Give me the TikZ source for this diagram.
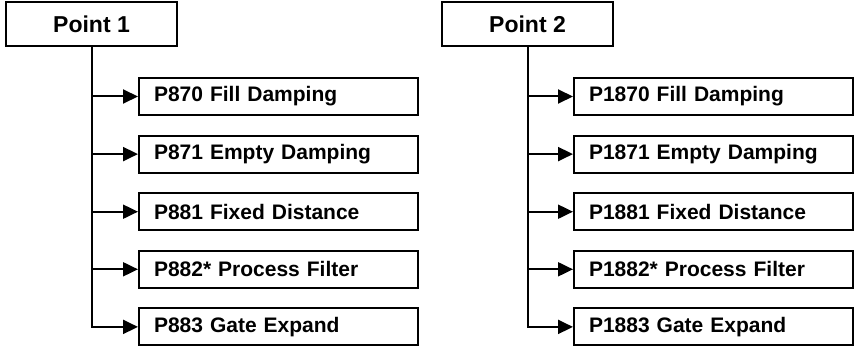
\documentclass[tikz,border=0pt]{standalone}
\usepackage{fontspec}
\setmainfont{Liberation Sans}
\usetikzlibrary{arrows.meta,positioning}
\begin{document}
\begin{tikzpicture}[
pointbox/.style={draw,line width=2pt,minimum width=171pt,minimum height=44pt,font=\bfseries\fontsize{23}{27}\selectfont},
parambox/.style={draw,line width=2pt,minimum width=279pt,minimum height=37pt,text width=249pt,inner xsep=15pt,align=left,font=\bfseries\fontsize{21}{25}\selectfont},
arr/.style={-{Triangle[length=15pt,width=14pt]},line width=2pt}]
\useasboundingbox (0,0) rectangle (854pt,-350pt);
% first point
\node[pointbox](p1) at (91.5pt,-24pt){Point 1};
\node[parambox,anchor=west](a1) at (138pt,-96.5pt){P870 Fill Damping};
\node[parambox,below=18.6pt of a1](a2){P871 Empty Damping};
\node[parambox,below=18.6pt of a2](a3){P881 Fixed Distance};
\node[parambox,below=18.6pt of a3](a4){P882* Process Filter};
\node[parambox,below=18.6pt of a4](a5){P883 Gate Expand};
% second point
\node[pointbox](p2) at (527.5pt,-24.5pt){Point 2};
\node[parambox,anchor=west](b1) at (573pt,-96.5pt){P1870 Fill Damping};
\node[parambox,below=18.6pt of b1](b2){P1871 Empty Damping};
\node[parambox,below=18.6pt of b2](b3){P1881 Fixed Distance};
\node[parambox,below=18.6pt of b3](b4){P1882* Process Filter};
\node[parambox,below=18.6pt of b4](b5){P1883 Gate Expand};
\draw[arr](p1.south)|-(a1);\draw[arr](p1.south)|-(a2);\draw[arr](p1.south)|-(a3);
\draw[arr](p1.south)|-(a4);\draw[arr](p1.south)|-(a5);
\draw[arr](p2.south)|-(b1);\draw[arr](p2.south)|-(b2);\draw[arr](p2.south)|-(b3);
\draw[arr](p2.south)|-(b4);\draw[arr](p2.south)|-(b5);
\end{tikzpicture}
\end{document}
